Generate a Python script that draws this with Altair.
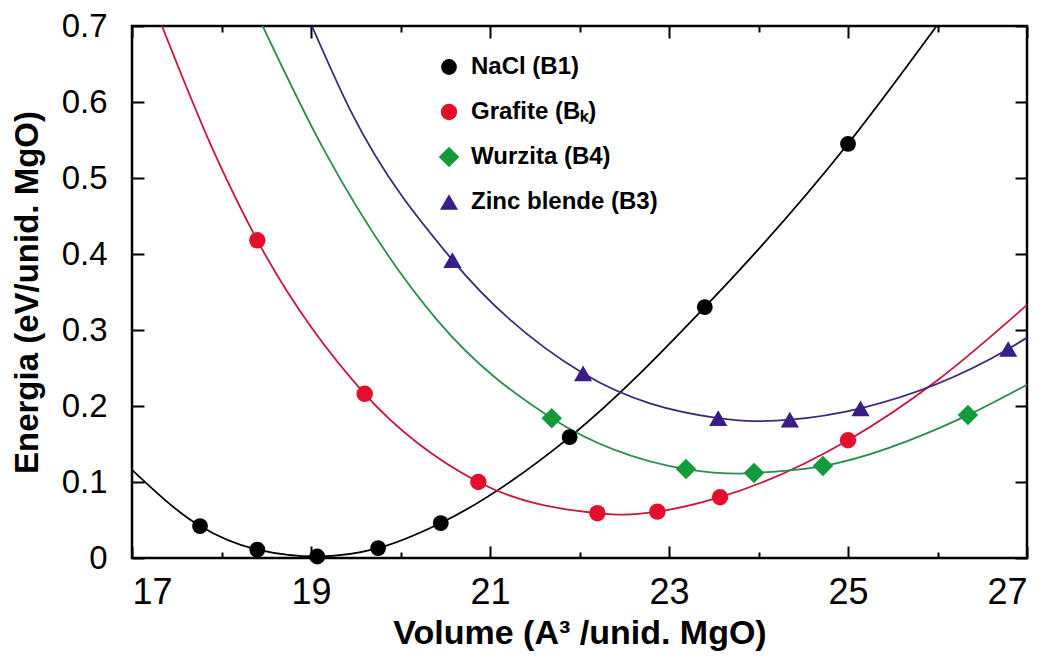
import altair as alt
import pandas as pd

SERIES = ["NaCl (B1)", "Grafite (Bₖ)", "Wurzita (B4)", "Zinc blende (B3)"]
MARKER_COLORS = ["#000000", "#e3102c", "#139a3b", "#3a1c8a"]
LINE_COLORS = ["#000000", "#c9153a", "#2b8d4c", "#3b2a7c"]
SHAPES = ["circle", "circle", "diamond", "triangle-up"]
SIZES = [250, 270, 420, 330]

# computed points (markers)
nacl_x = [17.76, 18.40, 19.07, 19.75, 20.45, 21.89, 23.40, 25.00]
nacl_y = [0.042, 0.011, 0.002, 0.013, 0.046, 0.159, 0.330, 0.545]
graf_x = [18.40, 19.60, 20.87, 22.20, 22.87, 23.57, 25.00]
graf_y = [0.418, 0.216, 0.100, 0.059, 0.061, 0.080, 0.155]
wurz_x = [21.69, 23.19, 23.95, 24.72, 26.34]
wurz_y = [0.184, 0.117, 0.112, 0.121, 0.188]
zinc_x = [20.58, 22.04, 23.55, 24.35, 25.14, 26.79]
zinc_y = [0.392, 0.243, 0.184, 0.182, 0.197, 0.275]

# fitted curves
nacl_cx = [17.0, 17.76, 18.40, 19.07, 19.75, 20.45, 21.89, 23.40, 25.00, 25.99]
nacl_cy = [0.116, 0.042, 0.011, 0.002, 0.013, 0.046, 0.159, 0.330, 0.545, 0.700]
graf_cx = [17.335, 17.905, 18.40, 19.60, 20.87, 22.20, 22.50, 22.87, 23.57, 25.00, 26.00, 27.00]
graf_cy = [0.700, 0.537, 0.418, 0.216, 0.100, 0.059, 0.057, 0.061, 0.080, 0.155, 0.234, 0.333]
wurz_cx = [18.46, 19.145, 20.41, 21.69, 23.19, 23.80, 23.95, 24.72, 26.34, 27.00]
wurz_cy = [0.700, 0.537, 0.313, 0.184, 0.117, 0.111, 0.112, 0.121, 0.188, 0.228]
zinc_cx = [19.01, 19.44, 20.58, 22.04, 23.55, 23.95, 24.35, 25.14, 26.79, 27.00]
zinc_cy = [0.700, 0.589, 0.392, 0.243, 0.184, 0.180, 0.182, 0.197, 0.275, 0.290]

x_ticks = [17, 18, 19, 20, 21, 22, 23, 24, 25, 26, 27]
y_ticks = [0, 0.1, 0.2, 0.3, 0.4, 0.5, 0.6, 0.7]

pts = [(nacl_x, nacl_y), (graf_x, graf_y), (wurz_x, wurz_y), (zinc_x, zinc_y)]
crv = [(nacl_cx, nacl_cy), (graf_cx, graf_cy), (wurz_cx, wurz_cy), (zinc_cx, zinc_cy)]

points = pd.DataFrame(
    [{"series": s, "x": x, "y": y} for s, (xs, ys) in zip(SERIES, pts) for x, y in zip(xs, ys)]
)
curves = pd.DataFrame(
    [{"series": s, "x": x, "y": y} for s, (xs, ys) in zip(SERIES, crv) for x, y in zip(xs, ys)]
)

FONT = "Liberation Sans"
xscale = alt.Scale(domain=[17, 27], nice=False, zero=False)
yscale = alt.Scale(domain=[0, 0.7], nice=False, zero=False)
x_tick_size = {"condition": {"test": "datum.value % 2 == 1", "value": -12}, "value": -6}

legend_props = dict(
    orient="none", legendX=305, legendY=29, padding=0, title=None,
    labelFont=FONT, labelFontSize=24, labelFontWeight="bold", labelColor="black",
    labelOffset=10, rowPadding=21, symbolStrokeWidth=0, labelLimit=400,
)

# line colours keyed in reverse order so this (legend-less) scale stays separate
lines = alt.Chart(curves).mark_line(clip=True, strokeWidth=1.8, interpolate="monotone").encode(
    x=alt.X("x:Q", scale=xscale, axis=alt.Axis(
        orient="bottom", values=x_ticks, domain=False, grid=False,
        labelExpr="datum.value % 2 == 1 ? datum.label : ''",
        tickSize=x_tick_size, tickColor="black", tickWidth=2,
        labelFont=FONT, labelFontSize=36, labelColor="black", labelPadding=29,
        title="Volume (A³ /unid. MgO)", titleFont=FONT, titleFontSize=34,
        titleFontWeight="bold", titleColor="black", titlePadding=6,
    )),
    y=alt.Y("y:Q", scale=yscale, axis=alt.Axis(
        orient="left", values=y_ticks, domain=False, grid=False,
        labelExpr="datum.value == 0 ? '0' : format(datum.value, '.1f')",
        tickSize={"expr": "-12"}, tickColor="black", tickWidth=2,
        labelFont=FONT, labelFontSize=33, labelColor="black", labelPadding=37,
        title="Energia (eV/unid. MgO)", titleFont=FONT, titleFontSize=33,
        titleFontWeight="bold", titleColor="black", titlePadding=17,
    )),
    stroke=alt.Stroke("series:N", scale=alt.Scale(domain=SERIES[::-1], range=LINE_COLORS[::-1]),
                      legend=None),
    detail="series:N",
)

marks = alt.Chart(points).mark_point(filled=True, opacity=1, strokeWidth=0).encode(
    x=alt.X("x:Q", scale=xscale, axis=alt.Axis(
        orient="top", values=x_ticks, domain=False, grid=False, labels=False,
        tickSize=x_tick_size, tickColor="black", tickWidth=2, title=None,
    )),
    y=alt.Y("y:Q", scale=yscale, axis=alt.Axis(
        orient="right", values=y_ticks, domain=False, grid=False, labels=False,
        tickSize={"expr": "-12"}, tickColor="black", tickWidth=2, title=None,
    )),
    color=alt.Color("series:N", scale=alt.Scale(domain=SERIES, range=MARKER_COLORS),
                    legend=alt.Legend(**legend_props)),
    shape=alt.Shape("series:N", scale=alt.Scale(domain=SERIES, range=SHAPES),
                    legend=alt.Legend(**legend_props)),
    size=alt.Size("series:N", scale=alt.Scale(type="ordinal", domain=SERIES, range=SIZES),
                  legend=alt.Legend(**legend_props)),
)

chart = alt.layer(lines, marks).resolve_axis(x="independent", y="independent").properties(
    width=895, height=532,
    autosize=alt.AutoSizeParams(type="none"),
    padding={"left": 124, "top": 18, "right": 15, "bottom": 94},
    background="white",
).configure_view(stroke="black", strokeWidth=2.5)

chart.save("out.html", embed_options={"renderer": "svg", "actions": False})
